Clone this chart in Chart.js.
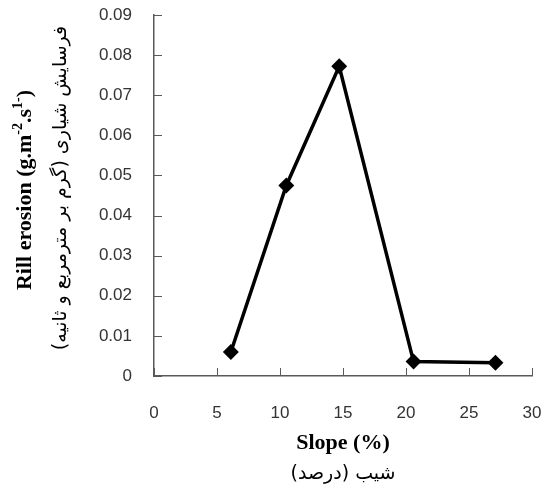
<!DOCTYPE html>
<html>
<head>
<meta charset="utf-8">
<script src="https://cdn.jsdelivr.net/npm/chart.js@4"></script>
<style>
  html, body { margin: 0; padding: 0; background: #fff; }
  #wrap { width: 549px; height: 490px; }
</style>
</head>
<body>
<div id="wrap"><canvas id="chart" width="549" height="490"></canvas></div>
<script>
// Slope (%) vs rill erosion
const slopes = [6.1, 10.5, 14.7, 20.6, 27.1];
const rillErosion = [0.006, 0.0475, 0.0772, 0.0036, 0.0033];
const xTicks = [0, 5, 10, 15, 20, 25, 30];
const yTicks = [0, 0.01, 0.02, 0.03, 0.04, 0.05, 0.06, 0.07, 0.08, 0.09];

const AXIS = '#5a5a5a';
const TEXT = '#333';

// inward tick marks + two-language axis titles
const decor = {
  id: 'decor',
  afterDraw(chart) {
    const { ctx, chartArea: a, scales: { x, y } } = chart;
    ctx.save();
    ctx.strokeStyle = AXIS;
    ctx.lineWidth = 1;
    ctx.beginPath();
    xTicks.forEach(v => {
      const px = Math.round(x.getPixelForValue(v)) + 0.5;
      ctx.moveTo(px, a.bottom); ctx.lineTo(px, a.bottom - 8);
    });
    yTicks.forEach(v => {
      const py = Math.round(y.getPixelForValue(v)) + 0.5;
      ctx.moveTo(a.left, py); ctx.lineTo(a.left + 8, py);
    });
    ctx.stroke();

    ctx.fillStyle = '#000';
    // x titles
    const cx = (a.left + a.right) / 2;
    ctx.textAlign = 'center';
    ctx.textBaseline = 'middle';
    ctx.font = 'bold 22px "Liberation Serif"';
    ctx.fillText('Slope (%)', cx, 443);
    ctx.direction = 'rtl';
    ctx.font = '19px "DejaVu Sans"';
    ctx.fillText('شیب (درصد)', cx, 474);

    // y titles (rotated)
    ctx.save();
    ctx.translate(25, 190);
    ctx.rotate(-Math.PI / 2);
    ctx.direction = 'ltr';
    const parts = [
      ['Rill erosion (g.m', 'bold 22px "Liberation Serif"', 0],
      ['-2', 'bold 14px "Liberation Serif"', -7],
      ['.s', 'bold 22px "Liberation Serif"', 0],
      ['1-', 'bold 14px "Liberation Serif"', -7],
      [')', 'bold 22px "Liberation Serif"', 0]
    ];
    let total = 0;
    parts.forEach(p => { ctx.font = p[1]; total += ctx.measureText(p[0]).width; });
    let px = -total / 2;
    ctx.textAlign = 'left';
    parts.forEach(p => {
      ctx.font = p[1];
      ctx.fillText(p[0], px, p[2]);
      px += ctx.measureText(p[0]).width;
    });
    ctx.restore();

    ctx.save();
    ctx.translate(61, 188);
    ctx.rotate(-Math.PI / 2);
    ctx.direction = 'rtl';
    ctx.textAlign = 'center';
    ctx.font = '19px "DejaVu Sans"';
    ctx.fillText('فرسایش شیاری (گرم بر مترمربع و ثانیه)', 0, 0);
    ctx.restore();
    ctx.restore();
  }
};

new Chart(document.getElementById('chart'), {
  type: 'scatter',
  data: {
    datasets: [{
      data: slopes.map((s, i) => ({ x: s, y: rillErosion[i] })),
      showLine: true,
      borderColor: '#000',
      backgroundColor: '#000',
      borderWidth: 3.5,
      pointStyle: 'rectRot',
      pointRadius: 5.5,
      pointHoverRadius: 5.5,
      tension: 0
    }]
  },
  options: {
    responsive: false,
    animation: false,
    events: [],
    layout: { padding: { top: 15, right: 17, left: 0, bottom: 0 } },
    plugins: { legend: { display: false }, tooltip: { enabled: false } },
    scales: {
      x: {
        type: 'linear', min: 0, max: 30,
        afterFit: s => { s.height = 114; s.paddingLeft = 0; s.paddingRight = 0; },
        afterBuildTicks: s => { s.ticks = xTicks.map(v => ({ value: v })); },
        border: { color: AXIS, width: 1.5 },
        grid: { display: false },
        ticks: { color: TEXT, font: { family: 'Liberation Sans', size: 17 }, padding: 19, maxRotation: 0 }
      },
      y: {
        type: 'linear', min: 0, max: 0.09,
        afterFit: s => { s.width = 154; s.paddingTop = 0; s.paddingBottom = 0; },
        afterBuildTicks: s => { s.ticks = yTicks.map(v => ({ value: v })); },
        border: { color: AXIS, width: 1.5 },
        grid: { display: false },
        ticks: {
          color: TEXT, font: { family: 'Liberation Sans', size: 17 }, padding: 14,
          callback: v => v === 0 ? '0' : v.toFixed(2)
        }
      }
    }
  },
  plugins: [decor]
});
</script>
</body>
</html>
